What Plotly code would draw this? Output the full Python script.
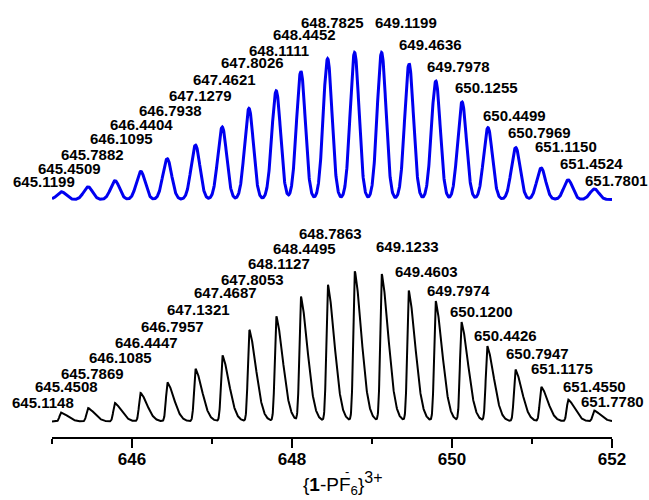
import numpy as np
import plotly.graph_objects as go

# Simulated isotope pattern (blue): peak m/z and relative intensity (%)
sim_mz = [645.1199, 645.4509, 645.7882, 646.1095, 646.4404, 646.7938, 647.1279,
          647.4621, 647.8026, 648.1111, 648.4452, 648.7825, 649.1199, 649.4636,
          649.7978, 650.1255, 650.4499, 650.7969, 651.1150, 651.4524, 651.7801]
sim_int = [5.2, 8.6, 12.8, 19.1, 27.7, 37.0, 49.3, 62.0, 73.9, 87.2, 95.8, 100.0,
           100.0, 92.4, 80.6, 66.4, 48.9, 35.3, 21.4, 13.3, 7.2]

# Experimental spectrum (black): peak m/z and relative intensity (%)
exp_mz = [645.1148, 645.4508, 645.7869, 646.1085, 646.4447, 646.7957, 647.1321,
          647.4687, 647.8053, 648.1127, 648.4495, 648.7863, 649.1233, 649.4603,
          649.7974, 650.1200, 650.4426, 650.7947, 651.1175, 651.4550, 651.7780]
exp_int = [6.0, 9.0, 12.3, 19.0, 26.0, 35.0, 44.0, 61.0, 70.0, 83.0, 91.0, 100.0,
           98.0, 87.0, 80.0, 66.0, 50.0, 34.5, 23.0, 14.5, 7.3]

x_range = [645, 652]
x_tickvals = [646, 648, 650, 652]
x_minor_tickvals = [645, 647, 649, 651]

# Label anchor points (pixel centres) for the peak annotations
sim_label_px = [(44, 181.7), (69, 168.3), (92, 154), (121.7, 138.3), (141, 125),
                (170.5, 110), (200, 95), (224, 80), (252, 62.7), (279, 50),
                (304, 35), (332, 22.7), (405.5, 22.7), (430, 44.3), (458.5, 66.7),
                (486, 87.7), (514, 115), (539, 132.3), (566, 146.7), (591, 163.3),
                (616, 180)]
exp_label_px = [(43.3, 402.3), (66.3, 386.7), (92, 373.3), (120, 357.3), (146, 342.7),
                (172.5, 326), (198, 309.3), (225.5, 292.7), (252.5, 279.3), (279, 263.3),
                (304.7, 248.3), (330, 233.3), (407, 246.7), (426, 271.7), (458.7, 290),
                (481, 311.7), (505, 335), (537, 353.3), (561.7, 368.3), (594, 386),
                (612.5, 401.7)]

W, H = 649, 500
L, R, T, B = 52, 37, 10, 63
PLOT_TOP, PLOT_BOT = T, H - B
PLOT_H = PLOT_BOT - PLOT_TOP
PLOT_W = W - L - R

FONT = "Liberation Sans, Arial, sans-serif"

x = np.linspace(x_range[0], x_range[1], 2801)

# Gaussian-broadened simulated profile
sigma = 0.055
sim_y = np.zeros_like(x)
for m, h in zip(sim_mz, sim_int):
    sim_y += h * np.exp(-(x - m) ** 2 / (2 * sigma ** 2))

# Experimental profile: steep leading edge, tailing trailing edge
exp_y = np.zeros_like(x)
for m, h in zip(exp_mz, exp_int):
    d = x - m
    left = np.exp(-d ** 2 / (2 * 0.02 ** 2))
    dr = np.clip(d, 0, None)
    right = 0.8 * np.exp(-dr ** 2 / (2 * 0.085 ** 2)) + 0.2 * np.exp(-dr / 0.08)
    exp_y += h * np.where(d < 0, left, right)


def axis_range(base_px, px_per_unit):
    return [(base_px - PLOT_BOT) / px_per_unit, (base_px - PLOT_TOP) / px_per_unit]


fig = go.Figure()
fig.add_trace(go.Scatter(x=x, y=exp_y, mode="lines", yaxis="y",
                         line=dict(color="#000000", width=2), hoverinfo="skip"))
fig.add_trace(go.Scatter(x=x, y=sim_y, mode="lines", yaxis="y2",
                         line=dict(color="#0000f0", width=3), hoverinfo="skip"))


def px_to_paper(px, py):
    return (px - L) / PLOT_W, (PLOT_BOT - py) / PLOT_H


annotations = []
for vals, pos in ((sim_mz, sim_label_px), (exp_mz, exp_label_px)):
    for m, (px, py) in zip(vals, pos):
        ax, ay = px_to_paper(px, py)
        annotations.append(dict(
            x=ax, y=ay, xref="paper", yref="paper", xanchor="center", yanchor="middle",
            text=f"{m:.4f}", showarrow=False,
            font=dict(family=FONT, size=15, color="#000000", weight="bold")))

# x-axis caption: {1-PF6^-}^3+ (the anion charge sits above the subscript)
tx, ty = px_to_paper(301, 484)
annotations.append(dict(
    x=tx, y=ty, xref="paper", yref="paper", xanchor="left", yanchor="middle",
    text=("{<b>1</b>-PF<sub>6</sub>}"
          "<sup><span style='font-size:16px'>3+</span></sup>"),
    showarrow=False,
    font=dict(family=FONT, size=19, color="#000000")))
mx, my = px_to_paper(347, 471)
annotations.append(dict(
    x=mx, y=my, xref="paper", yref="paper", xanchor="center", yanchor="middle",
    text="-", showarrow=False,
    font=dict(family=FONT, size=13, color="#000000")))

fig.update_layout(
    width=W, height=H,
    margin=dict(l=L, r=R, t=T, b=B, pad=0),
    paper_bgcolor="white", plot_bgcolor="white",
    showlegend=False,
    xaxis=dict(range=x_range, tickvals=x_tickvals, ticks="outside", ticklen=9,
               tickwidth=2, tickcolor="black", showline=True, linewidth=2,
               linecolor="black", showgrid=False, zeroline=False,
               ticklabelstandoff=-3,
               tickfont=dict(family=FONT, size=17, color="black", weight="bold"),
               minor=dict(tickvals=x_minor_tickvals, ticks="outside", ticklen=5,
                          tickwidth=2, tickcolor="black", showgrid=False)),
    yaxis=dict(range=axis_range(421.5, 1.5), visible=False, fixedrange=True),
    yaxis2=dict(range=axis_range(199.5, 1.47), visible=False, overlaying="y",
                fixedrange=True),
    annotations=annotations,
)

fig.write_html("out.html")
